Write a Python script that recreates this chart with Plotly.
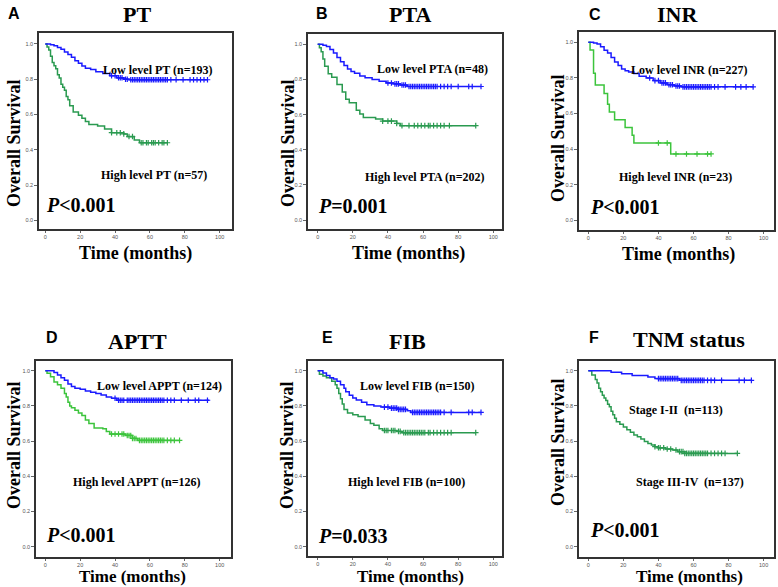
import plotly.graph_objects as go

W, H = 778, 587

# ---------------- data ----------------
# Panel A  PT
A_low_t = [0, 3, 5, 7, 9, 11, 13, 15, 17, 19, 21, 23, 26, 29, 33, 37, 41, 45, 48]
A_low_s = [1.0, 0.996, 0.99, 0.98, 0.97, 0.955, 0.94, 0.925, 0.905, 0.89, 0.875, 0.862, 0.855, 0.842, 0.832, 0.82, 0.808, 0.80, 0.797]
A_low_end = 93
A_low_c = [38, 40, 42, 43, 44, 46, 47, 49, 50, 51, 52, 53, 54, 55, 56, 57, 58, 59, 60, 61, 62, 63, 64, 65, 66, 67, 68, 69, 70, 72, 75, 79, 83, 85, 87, 89, 91, 93]
A_high_t = [0, 1, 2, 3, 4, 5, 6, 7, 8, 9, 10, 11, 12, 13, 14, 16, 19, 21, 23, 25, 30, 34, 38, 45, 47, 51, 54]
A_high_s = [1.0, 0.982, 0.965, 0.93, 0.895, 0.877, 0.86, 0.825, 0.807, 0.772, 0.754, 0.737, 0.702, 0.684, 0.649, 0.614, 0.596, 0.579, 0.561, 0.544, 0.535, 0.518, 0.497, 0.49, 0.475, 0.456, 0.44]
A_high_end = 70
A_high_c = [38, 41, 43, 45, 48, 50, 55, 56, 58, 59, 61, 62, 63, 65, 67, 68, 70]

# Panel B  PTA
B_low_t = [0, 3, 5, 7, 9, 11, 13, 15, 17, 19, 21, 24, 27, 31, 35, 39, 43, 47, 51]
B_low_s = [1.0, 0.995, 0.987, 0.97, 0.95, 0.925, 0.9, 0.88, 0.86, 0.845, 0.835, 0.82, 0.81, 0.8, 0.79, 0.78, 0.775, 0.768, 0.76]
B_low_end = 93
B_low_c = [40, 42, 44, 45, 46, 48, 49, 50, 52, 53, 54, 55, 56, 57, 58, 59, 60, 61, 62, 63, 64, 65, 66, 67, 68, 70, 72, 74, 76, 80, 86, 88, 93]
B_high_t = [0, 1, 2, 3, 4, 6, 8, 11, 14, 16, 18, 22, 24, 26, 33, 37, 45, 47]
B_high_s = [1.0, 0.98, 0.958, 0.917, 0.875, 0.833, 0.813, 0.771, 0.729, 0.688, 0.667, 0.625, 0.604, 0.583, 0.575, 0.563, 0.55, 0.537]
B_high_end = 90
B_high_c = [37, 40, 42, 45, 48, 52, 55, 57, 59, 61, 63, 64, 66, 68, 70, 72, 75, 90]

# Panel C  INR
C_low_t = [0, 3, 5, 7, 9, 11, 13, 15, 17, 19, 21, 23, 26, 29, 33, 37, 41, 45, 49, 53]
C_low_s = [1.0, 0.996, 0.99, 0.975, 0.955, 0.94, 0.915, 0.89, 0.87, 0.85, 0.84, 0.833, 0.825, 0.81, 0.8, 0.785, 0.772, 0.762, 0.755, 0.75]
C_low_end = 94
C_low_c = [35, 38, 40, 42, 43, 44, 46, 47, 48, 50, 51, 52, 54, 55, 56, 57, 58, 59, 60, 61, 62, 63, 64, 65, 66, 67, 68, 69, 70, 72, 74, 78, 84, 87, 90, 94]
C_high_t = [0, 1, 3, 4, 9, 11, 12, 15, 21, 25, 26, 47]
C_high_s = [1.0, 0.957, 0.826, 0.761, 0.713, 0.652, 0.609, 0.565, 0.522, 0.478, 0.435, 0.373]
C_high_end = 70
C_high_c = [40, 45, 50, 56, 62, 68, 70]

# Panel D  APTT
D_low_t = [0, 5, 7, 9, 11, 13, 15, 17, 20, 23, 26, 29, 32, 35, 38, 41]
D_low_s = [1.0, 0.99, 0.975, 0.96, 0.945, 0.925, 0.91, 0.9, 0.894, 0.885, 0.878, 0.87, 0.862, 0.85, 0.843, 0.832]
D_low_end = 94
D_low_c = [40, 42, 43, 44, 45, 47, 48, 49, 50, 51, 52, 53, 54, 55, 56, 57, 58, 59, 60, 61, 62, 63, 64, 65, 66, 67, 68, 70, 72, 74, 78, 82, 86, 88, 93]
D_high_t = [0, 1, 3, 5, 7, 9, 11, 12, 13, 14, 15, 17, 19, 21, 23, 25, 28, 33, 35, 37, 46, 50, 53]
D_high_s = [1.0, 0.985, 0.965, 0.935, 0.92, 0.9, 0.87, 0.85, 0.82, 0.80, 0.79, 0.775, 0.76, 0.745, 0.72, 0.7, 0.675, 0.67, 0.655, 0.64, 0.632, 0.615, 0.604]
D_high_end = 77
D_high_c = [38, 40, 42, 44, 45, 47, 48, 49, 50, 51, 52, 54, 55, 56, 57, 58, 59, 60, 61, 62, 63, 64, 65, 66, 67, 68, 70, 72, 74, 77]

# Panel E  FIB
E_low_t = [0, 3, 5, 7, 9, 11, 13, 15, 16, 18, 20, 22, 25, 28, 32, 36, 41, 46, 51, 53]
E_low_s = [1.0, 0.987, 0.973, 0.96, 0.953, 0.94, 0.92, 0.9, 0.88, 0.86, 0.845, 0.833, 0.82, 0.807, 0.8, 0.793, 0.787, 0.78, 0.773, 0.763]
E_low_end = 93
E_low_c = [38, 40, 42, 43, 44, 45, 46, 47, 48, 49, 50, 54, 55, 56, 57, 58, 59, 60, 61, 62, 63, 64, 65, 66, 67, 68, 69, 70, 72, 76, 86, 88, 93]
E_high_t = [0, 1, 3, 5, 8, 10, 11, 12, 13, 14, 15, 17, 20, 23, 27, 30, 32, 35, 37, 45, 48]
E_high_s = [1.0, 0.98, 0.97, 0.96, 0.94, 0.92, 0.9, 0.87, 0.84, 0.81, 0.78, 0.76, 0.75, 0.74, 0.72, 0.7, 0.69, 0.67, 0.66, 0.655, 0.648]
E_high_end = 90
E_high_c = [38, 39, 40, 42, 43, 44, 46, 47, 49, 50, 51, 52, 53, 54, 55, 56, 57, 58, 59, 60, 61, 63, 64, 66, 68, 70, 72, 74, 76, 90]

# Panel F  TNM status
F_low_t = [0, 13, 19, 25, 34, 38, 52]
F_low_s = [1.0, 0.991, 0.982, 0.973, 0.964, 0.955, 0.945]
F_low_end = 93
F_low_c = [40, 41, 42, 43, 44, 45, 46, 47, 48, 49, 50, 51, 53, 54, 55, 56, 57, 58, 59, 60, 61, 62, 63, 64, 65, 66, 68, 70, 72, 76, 86, 89, 93]
F_high_t = [0, 2, 4, 5, 6, 7, 8, 9, 10, 11, 12, 13, 14, 15, 16, 18, 20, 22, 24, 26, 28, 30, 32, 34, 36, 38, 40, 44, 48, 51, 55]
F_high_s = [1.0, 0.975, 0.95, 0.93, 0.9, 0.88, 0.86, 0.845, 0.83, 0.81, 0.795, 0.77, 0.75, 0.73, 0.71, 0.695, 0.68, 0.665, 0.65, 0.635, 0.625, 0.612, 0.597, 0.587, 0.578, 0.568, 0.562, 0.555, 0.549, 0.54, 0.53]
F_high_end = 85
F_high_c = [38, 40, 41, 43, 45, 47, 50, 52, 53, 54, 55, 56, 57, 58, 59, 60, 61, 62, 63, 64, 65, 66, 67, 68, 70, 72, 74, 76, 78, 85]

letters = ["A", "B", "C", "D", "E", "F"]
titles = ["PT", "PTA", "INR", "APTT", "FIB", "TNM status"]
low_labels = ["Low level PT (n=193)", "Low level PTA (n=48)", "Low level INR (n=227)",
              "Low level APPT (n=124)", "Low level FIB (n=150)", "Stage I-II  (n=113)"]
high_labels = ["High level PT (n=57)", "High level PTA (n=202)", "High level INR (n=23)",
               "High level APPT (n=126)", "High level FIB (n=100)", "Stage III-IV  (n=137)"]
p_values = ["&lt;0.001", "=0.001", "&lt;0.001", "&lt;0.001", "=0.033", "&lt;0.001"]
x_ticks = [0, 20, 40, 60, 80, 100]
y_ticks = [0.0, 0.2, 0.4, 0.6, 0.8, 1.0]

curves = [
    (A_low_t, A_low_s, A_low_end, A_low_c, A_high_t, A_high_s, A_high_end, A_high_c),
    (B_low_t, B_low_s, B_low_end, B_low_c, B_high_t, B_high_s, B_high_end, B_high_c),
    (C_low_t, C_low_s, C_low_end, C_low_c, C_high_t, C_high_s, C_high_end, C_high_c),
    (D_low_t, D_low_s, D_low_end, D_low_c, D_high_t, D_high_s, D_high_end, D_high_c),
    (E_low_t, E_low_s, E_low_end, E_low_c, E_high_t, E_high_s, E_high_end, E_high_c),
    (F_low_t, F_low_s, F_low_end, F_low_c, F_high_t, F_high_s, F_high_end, F_high_c),
]

# ---------------- layout (pixels) ----------------
boxes = [  # left, right, top, bottom
    (39, 232, 33, 229), (308, 502, 34, 229), (579, 774, 32, 230),
    (36, 231, 361, 557), (308, 502, 361, 556), (579, 774, 361, 557),
]
xranges = [(-3.6, 107.05), (-5.5, 104.95), (-5.3, 105.9),
           (-5.33, 106.5), (-5.5, 104.95), (-5.3, 105.9)]
yranges = [(-0.049, 1.062), (-0.051, 1.0586), (-0.054, 1.058),
           (-0.0585, 1.055), (-0.053, 1.055), (-0.0585, 1.055)]
greens = ["#2a9a50", "#2a9a50", "#3cc43c", "#3cc43c", "#2a9a50", "#2a9a50"]
BLUE = "#1a1aff"

letter_pos = [(14, 13), (322, 13), (595, 14), (52, 337), (327, 337), (594, 337)]
title_pos = [(137, 14), (410, 14), (677, 14), (137, 341), (407, 341), (689, 339)]
ytitle_pos = [(14, 143), (288, 143), (558, 138), (14, 445), (287, 445), (558, 442)]
xtitle_pos = [(135, 253), (408, 253), (678, 254), (132, 587), (411, 587), (689, 587)]
xtitle_anchor = ["middle", "middle", "middle", "bottom", "bottom", "bottom"]
low_pos = [(158, 70), (432, 69), (689, 70), (159, 386), (417, 386), (676, 410)]
high_pos = [(154, 175), (425, 177), (675, 177), (137, 482), (406, 482), (690, 482)]
p_pos = [(45, 205), (317, 206), (589, 207), (45, 535), (317, 536), (589, 530)]

SERIF = "Liberation Serif"
SANS = "Liberation Sans"


def px(x):
    return x / W


def py(y):
    return 1 - y / H


def step_val(ts, ss, c):
    v = ss[0]
    for t, s in zip(ts, ss):
        if t <= c:
            v = s
    return v


fig = go.Figure()
annotations = []
for i in range(6):
    lt, ls, le, lc, ht, hs, he, hc = curves[i]
    xa = "x" if i == 0 else f"x{i+1}"
    ya = "y" if i == 0 else f"y{i+1}"
    for (ts, ss, end, cens, col) in [(ht, hs, he, hc, greens[i]), (lt, ls, le, lc, BLUE)]:
        fig.add_trace(go.Scatter(x=ts + [end], y=ss + [ss[-1]], mode="lines",
                                 line=dict(color=col, width=1.5, shape="hv"),
                                 xaxis=xa, yaxis=ya, showlegend=False, hoverinfo="skip"))
        fig.add_trace(go.Scatter(x=cens, y=[step_val(ts, ss, c) for c in cens], mode="markers",
                                 marker=dict(symbol="cross-thin", size=4, color=col,
                                             line=dict(color=col, width=1.2)),
                                 xaxis=xa, yaxis=ya, showlegend=False, hoverinfo="skip"))
    L, R, T, B = boxes[i]
    suffix = "" if i == 0 else str(i + 1)
    fig.layout["xaxis" + suffix] = dict(
        domain=[px(L), px(R)], anchor=ya, range=list(xranges[i]),
        tickvals=x_ticks, ticks="outside", ticklen=2, tickcolor="#666", tickwidth=0.8,
        tickfont=dict(size=5.5, color="#555", family=SANS),
        showline=True, mirror=True, linecolor="#333", linewidth=1.5,
        showgrid=False, zeroline=False, fixedrange=True)
    fig.layout["yaxis" + suffix] = dict(
        domain=[py(B), py(T)], anchor=xa, range=list(yranges[i]),
        tickvals=y_ticks, tickformat=".1f", ticks="outside", ticklen=3, tickcolor="#666", tickwidth=0.8,
        tickfont=dict(size=5.5, color="#555", family=SANS),
        showline=True, mirror=True, linecolor="#333", linewidth=1.5,
        showgrid=False, zeroline=False, fixedrange=True)

    def ann(text, pos, size, family, xanchor="center", angle=0, yanchor="middle"):
        annotations.append(dict(text=text, x=px(pos[0]), y=py(pos[1]), xref="paper", yref="paper",
                                xanchor=xanchor, yanchor=yanchor, showarrow=False, textangle=angle,
                                borderpad=0,
                                font=dict(size=size, family=family, color="black")))

    ann("<b>" + letters[i] + "</b>", letter_pos[i], 16, SANS)
    ann("<b>" + titles[i] + "</b>", title_pos[i], 22, SERIF)
    ann("<b>Overall Survival</b>", ytitle_pos[i], 18, SERIF, angle=-90)
    ann("<b>Time (months)</b>", xtitle_pos[i], 18 if i < 3 else 17, SERIF, yanchor=xtitle_anchor[i])
    ann("<b>" + low_labels[i] + "</b>", low_pos[i], 12, SERIF)
    ann("<b>" + high_labels[i] + "</b>", high_pos[i], 12, SERIF)
    ann("<b><i>P</i>" + p_values[i] + "</b>", p_pos[i], 20, SERIF, xanchor="left")

fig.update_layout(width=W, height=H, margin=dict(l=0, r=0, t=0, b=0),
                  paper_bgcolor="white", plot_bgcolor="white",
                  annotations=annotations, showlegend=False)
fig.write_html("out.html", config={"displayModeBar": False})

# remove the browser's default 8px body margin so the figure sits at the page origin
with open("out.html", "r", encoding="utf-8") as f:
    html = f.read()
html = html.replace("<body>", '<body style="margin:0;padding:0;overflow:hidden">', 1)
with open("out.html", "w", encoding="utf-8") as f:
    f.write(html)
